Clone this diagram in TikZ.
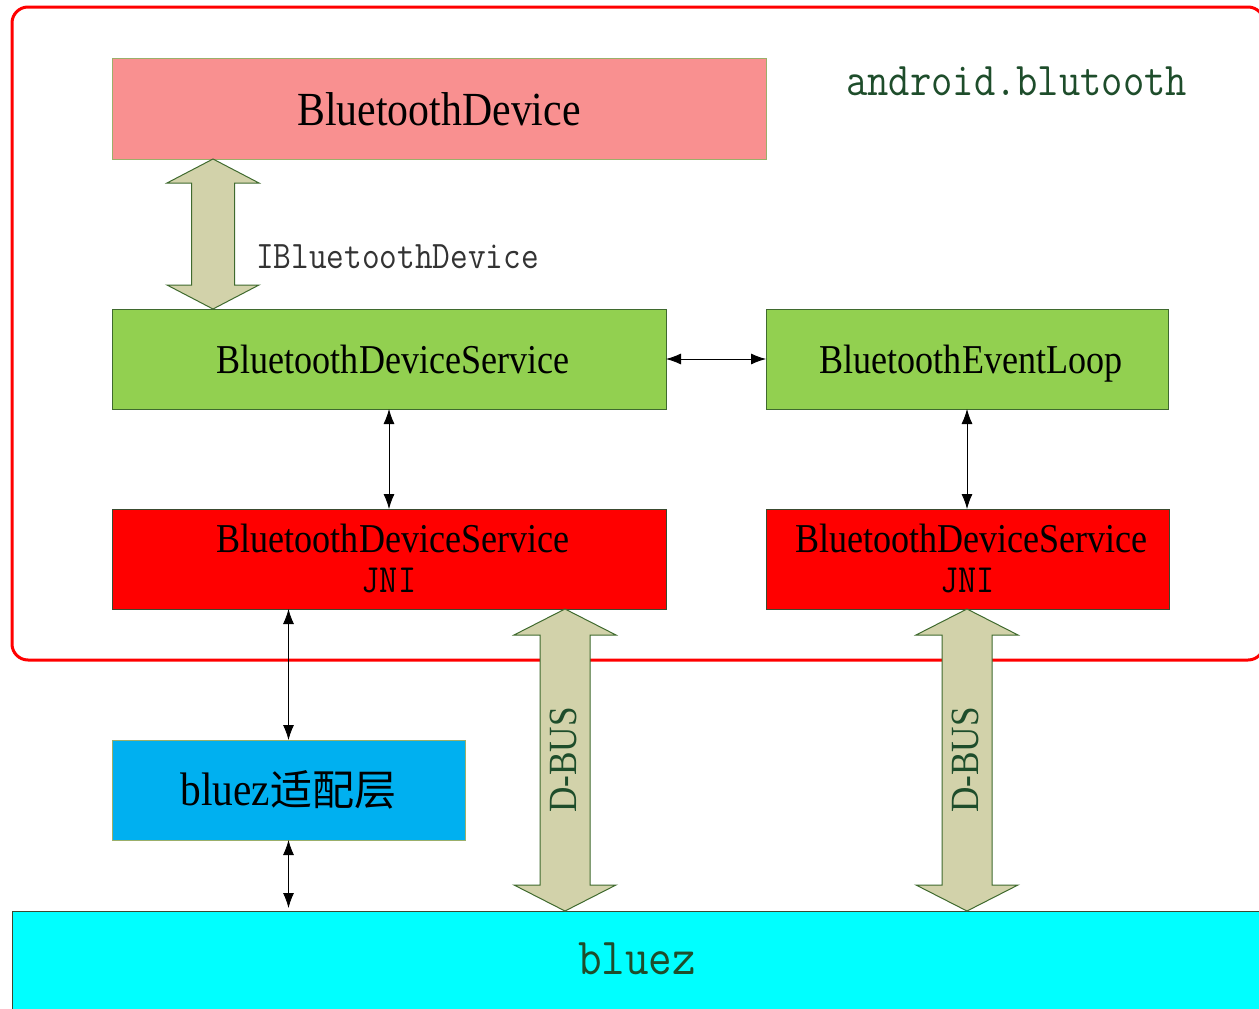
\documentclass[tikz,border=0pt]{standalone}
\usepackage{fontspec}
\setmainfont{Liberation Serif}[FakeStretch=0.88]
\setmonofont{Latin Modern Mono}[FakeStretch=0.88]
\newfontfamily\cjk{Noto Sans CJK SC}
\usetikzlibrary{arrows.meta,calc}
\definecolor{salmon}{HTML}{F99090}
\definecolor{lgreen}{HTML}{92D050}
\definecolor{skyblue}{HTML}{00B0F0}
\definecolor{aqua}{RGB}{0,255,255}
\definecolor{khaki}{HTML}{D2D2AA}
\definecolor{dgreen}{HTML}{1E4D2B}
\definecolor{olive}{HTML}{9BAF6A}
\definecolor{bordgreen}{HTML}{3F6A2E}
\definecolor{bordred}{HTML}{3A4A30}
\newcommand\dblarrow[5]{%
  \draw[barrow] (#1) -- ++(#4,#5) -- ++({#3-#4},0) -- ($(#2)+(#3,-#5)$) -- ++({#4-#3},0) -- (#2)
    -- ++(-#4,-#5) -- ++({#4-#3},0) -- ($(#1)+(-#3,#5)$) -- ++({#3-#4},0) -- cycle;}
\begin{document}
\begin{tikzpicture}[x=1pt,y=-1pt,
  box/.style={draw, rectangle, anchor=north west, inner sep=0pt, outer sep=0pt, line width=1pt},
  biarrow/.style={{Latex[length=15pt,width=11pt]}-{Latex[length=15pt,width=11pt]}, line width=0.8pt, black},
  barrow/.style={fill=khaki, draw=bordgreen, line width=1pt, line join=miter},
  serifbig/.style={font=\fontsize{47.5}{50}\selectfont, text height=33pt, text depth=0pt},
  serifmid/.style={font=\fontsize{41}{41}\selectfont, text height=28.5pt, text depth=0pt},
  jnibox/.style={box, fill=red, draw=bordred, minimum height=100pt, align=center, font=\fontsize{41}{41}\selectfont}]
\useasboundingbox (0,0) rectangle (1259,1009);
\clip (0,0) rectangle (1259,1009);
% outer frame
\draw[red, line width=3pt, rounded corners=16pt] (12,7) rectangle (1264,660);
\node[anchor=west, text=dgreen, font=\ttfamily\fontsize{47}{47}\selectfont, inner sep=0pt] (pkg) at (846,81) {android.blutooth};
% boxes
\node[box, fill=salmon, draw=olive, minimum width=654pt, minimum height=101pt, serifbig] (bd) at (112,58) {BluetoothDevice};
\node[box, fill=lgreen, draw=bordgreen, minimum width=554pt, minimum height=100pt, serifmid] (bds) at (112,309) {\hspace{8pt}BluetoothDeviceService};
\node[box, fill=lgreen, draw=bordgreen, minimum width=402pt, minimum height=100pt, serifmid] (bel) at (766,309) {\hspace{8pt}BluetoothEventLoop};
\node[jnibox, minimum width=554pt] (jni1) at (112,509)
  {\hspace{8pt}BluetoothDeviceService\\[-1pt]{\ttfamily\fontsize{40}{38}\selectfont JNI}};
\node[jnibox, minimum width=403pt] (jni2) at (766,509)
  {\hspace{8pt}BluetoothDeviceService\\[-1pt]{\ttfamily\fontsize{40}{38}\selectfont JNI}};
\node[box, fill=skyblue, draw=olive, minimum width=353pt, minimum height=100pt, font=\fontsize{47}{47}\selectfont, text height=31pt, text depth=0pt] (blue) at (112,740)
  {bluez{\cjk\fontsize{42}{42}\selectfont 适配层}};
\node[box, fill=aqua, draw=bordred, minimum width=1260pt, minimum height=110pt] (bluez) at (12,911) {};
\node[text=dgreen, font=\ttfamily\fontsize{52}{52}\selectfont, inner sep=0pt] (bluezt) at (637,959) {bluez};
% block arrows
\dblarrow{bd.south -| 213,0}{bds.north -| 213,0}{21.5}{46}{24}
\node[anchor=west, text=black!80, font=\ttfamily\fontsize{39}{39}\selectfont, inner sep=0pt] (ibd) at (256,257) {IBluetoothDevice};
\dblarrow{jni1.south -| 565,0}{bluez.north -| 565,0}{25}{51}{26}
\dblarrow{jni2.south -| 967,0}{bluez.north -| 967,0}{25}{51}{26}
\node[rotate=90, text=dgreen, font=\fontsize{40}{40}\selectfont, inner sep=0pt] (dbus1) at (563,760) {D-BUS};
\node[rotate=90, text=dgreen, font=\fontsize{40}{40}\selectfont, inner sep=0pt] (dbus2) at (965,760) {D-BUS};
% line arrows
\draw[biarrow] (bds.east) -- (bel.west);
\draw[biarrow] (bds.south) -- (jni1.north);
\draw[biarrow] (bel.south) -- (bel.south |- jni2.north);
\draw[biarrow] (jni1.south -| blue.north) -- (blue.north);
\draw[biarrow] (blue.south) -- ($(blue.south |- bluez.north)+(0,-3)$);
\end{tikzpicture}
\end{document}
